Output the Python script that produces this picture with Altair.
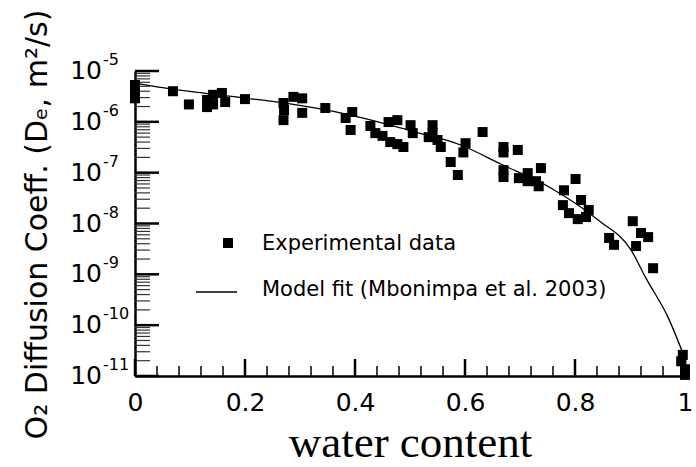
import altair as alt
import pandas as pd

# ---- data ----
water = [0, 0, 0, 0.069, 0.098, 0.131, 0.131, 0.142, 0.142, 0.158, 0.164, 0.200,
         0.270, 0.270, 0.271, 0.288, 0.304, 0.304, 0.346, 0.383, 0.395, 0.392,
         0.428, 0.437, 0.450, 0.461, 0.477, 0.464, 0.477, 0.488, 0.501, 0.505,
         0.534, 0.541, 0.541, 0.550, 0.556, 0.574, 0.587, 0.601, 0.597, 0.632,
         0.670, 0.670, 0.670, 0.670, 0.696, 0.698, 0.714, 0.714, 0.729, 0.738,
         0.734, 0.780, 0.801, 0.778, 0.789, 0.811, 0.805, 0.825, 0.820, 0.862,
         0.871, 0.905, 0.920, 0.933, 0.911, 0.942, 0.996, 0.993, 1.0, 1.0]
deff = [5.3e-6, 3.9e-6, 2.9e-6, 4.0e-6, 2.2e-6, 1.95e-6, 2.7e-6, 3.4e-6, 2.2e-6,
        3.7e-6, 2.45e-6, 2.8e-6, 2.35e-6, 1.08e-6, 1.7e-6, 3.1e-6, 2.9e-6, 1.5e-6,
        1.87e-6, 1.19e-6, 1.56e-6, 6.9e-7, 8.3e-7, 6.0e-7, 5.3e-7, 9.9e-7, 1.08e-6,
        4.0e-7, 3.65e-7, 3.2e-7, 8.6e-7, 6.0e-7, 5.0e-7, 8.6e-7, 6.0e-7, 4.4e-7,
        3.2e-7, 1.62e-7, 9.0e-8, 3.8e-7, 2.5e-7, 6.3e-7, 3.2e-7, 2.5e-7, 1.12e-7,
        8.2e-8, 2.8e-7, 7.8e-8, 9.8e-8, 6.8e-8, 6.8e-8, 1.23e-7, 5.4e-8, 4.5e-8,
        7.5e-8, 2.3e-8, 1.6e-8, 2.9e-8, 1.22e-8, 1.84e-8, 1.34e-8, 5.2e-9, 3.8e-9,
        1.11e-8, 6.5e-9, 5.4e-9, 3.6e-9, 1.32e-9, 2.6e-11, 1.95e-11, 1.36e-11, 1.05e-11]

fit_water = [0, 0.069, 0.2, 0.27, 0.392, 0.51, 0.592, 0.665, 0.756, 0.842, 0.902,
             0.929, 0.969, 1.0]
fit_deff = [5.8e-6, 4.4e-6, 2.94e-6, 2.35e-6, 1.36e-6, 6.3e-7, 3.5e-7, 1.48e-7,
            5.0e-8, 1.17e-8, 3.0e-9, 8.4e-10, 1.44e-10, 2.2e-11]

x_major = [0, 0.2, 0.4, 0.6, 0.8, 1.0]
x_minor = [0.04, 0.08, 0.12, 0.16, 0.24, 0.28, 0.32, 0.36, 0.44, 0.48, 0.52, 0.56,
           0.64, 0.68, 0.72, 0.76, 0.84, 0.88, 0.92, 0.96]
y_major = [1e-5, 1e-6, 1e-7, 1e-8, 1e-9, 1e-10, 1e-11]
y_base = ["10", "10", "10", "10", "10", "10", "10"]
y_exp = ["-5", "-6", "-7", "-8", "-9", "-10", "-11"]
y_minor = [k * 10.0 ** n for n in range(-11, -5) for k in range(2, 10)]

legend_points = "Experimental data"
legend_line = "Model fit (Mbonimpa et al. 2003)"
x_title = "water content"
y_title = "O\u2082 Diffusion Coeff. (D\u2091, m\u00b2/s)"

# ---- layout ----
W, H = 550, 305
SANS = "DejaVu Sans"

pts = pd.DataFrame({"water": water, "deff": deff})
fit = pd.DataFrame({"water": fit_water, "deff": fit_deff})
xmaj = pd.DataFrame({"v": x_major})
xmin = pd.DataFrame({"v": x_minor})
ymaj = pd.DataFrame({"v": y_major, "base": y_base, "exp": y_exp})
ymin = pd.DataFrame({"v": y_minor})
one = pd.DataFrame({"k": [0]})

xs = alt.Scale(domain=[0, 1], nice=False, zero=False)
ys = alt.Scale(type="log", domain=[1e-11, 1e-5], nice=False)

x_axis = alt.Axis(values=x_major, format="~g", ticks=False, tickSize=0,
                  labelPadding=14, labelFontSize=25, labelFont=SANS,
                  labelFlush=False, labelColor="black", grid=False,
                  domainColor="black", domainWidth=2.5, title=x_title,
                  titleFont="Liberation Serif", titleFontSize=45,
                  titleFontWeight="normal", titleColor="black",
                  titleBaseline="alphabetic", titleAlign="center",
                  titleX=W / 2, titleY=80)
y_axis = alt.Axis(ticks=False, labels=False, grid=False, domainColor="black",
                  domainWidth=2.5, title=y_title, titleFont=SANS, titleFontSize=30,
                  titleFontWeight="normal", titleColor="black", titleAngle=270,
                  titleAlign="center", titleBaseline="middle", titleX=-98,
                  titleY=153)

line = alt.Chart(fit).mark_line(color="black", strokeWidth=1.3,
                                interpolate="monotone").encode(
    x=alt.X("water:Q", scale=xs, axis=x_axis),
    y=alt.Y("deff:Q", scale=ys, axis=y_axis),
)
points = alt.Chart(pts).mark_square(color="black", opacity=1, size=100).encode(
    x=alt.X("water:Q", scale=xs),
    y=alt.Y("deff:Q", scale=ys),
)

ymaj_ticks = alt.Chart(ymaj).mark_rule(color="black", strokeWidth=2.5).encode(
    y=alt.Y("v:Q", scale=ys), x=alt.value(0), x2=alt.value(24))
ymin_ticks = alt.Chart(ymin).mark_rule(color="#333333", strokeWidth=1.2).encode(
    y=alt.Y("v:Q", scale=ys), x=alt.value(0), x2=alt.value(15))
xmaj_ticks = alt.Chart(xmaj).mark_rule(color="black", strokeWidth=2.5).encode(
    x=alt.X("v:Q", scale=xs), y=alt.value(H), y2=alt.value(H - 17))
xmin_ticks = alt.Chart(xmin).mark_rule(color="black", strokeWidth=1.5).encode(
    x=alt.X("v:Q", scale=xs), y=alt.value(H), y2=alt.value(H - 10))

ylab = alt.Chart(ymaj).mark_text(align="right", baseline="middle", fontSize=25,
                                 font=SANS, color="black").encode(
    y=alt.Y("v:Q", scale=ys), x=alt.value(-33), text="base:N")
ysup = alt.Chart(ymaj).mark_text(align="left", baseline="middle", fontSize=16,
                                 font=SANS, color="black", dy=-11).encode(
    y=alt.Y("v:Q", scale=ys), x=alt.value(-32), text="exp:N")

leg_sq = alt.Chart(one).mark_square(color="black", opacity=1, size=100).encode(
    x=alt.value(93), y=alt.value(172))
leg_t1 = alt.Chart(one).mark_text(text=legend_points, align="left",
                                  baseline="middle", fontSize=21, font=SANS,
                                  color="black").encode(
    x=alt.value(127), y=alt.value(173))
leg_ln = alt.Chart(one).mark_rule(color="black", strokeWidth=1.3).encode(
    x=alt.value(61), x2=alt.value(102), y=alt.value(221))
leg_t2 = alt.Chart(one).mark_text(text=legend_line, align="left",
                                  baseline="middle", fontSize=21, font=SANS,
                                  color="black").encode(
    x=alt.value(127), y=alt.value(219))

chart = alt.layer(
    line, ymin_ticks, ymaj_ticks, xmin_ticks, xmaj_ticks, points, ylab, ysup,
    leg_sq, leg_t1, leg_ln, leg_t2
).properties(
    width=W, height=H,
    autosize=alt.AutoSizeParams(type="none"),
    padding={"left": 135, "top": 71, "right": 11, "bottom": 91},
    background="white",
).configure_view(stroke=None)

chart.save("out.html", embed_options={"renderer": "svg", "actions": False})
